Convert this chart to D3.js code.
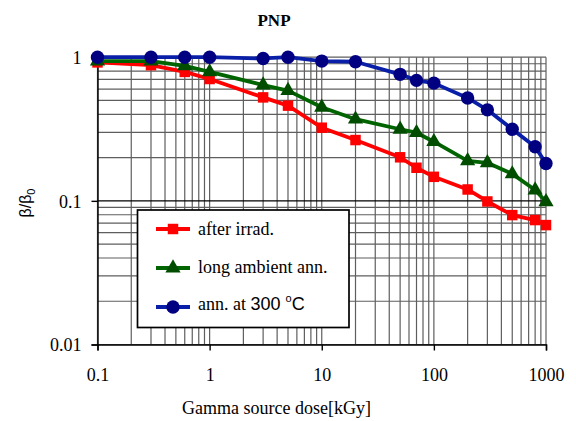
<!DOCTYPE html>
<html>
<head>
<meta charset="utf-8">
<script src="https://cdn.jsdelivr.net/npm/d3@7/dist/d3.min.js"></script>
<style>
  html, body { margin: 0; padding: 0; background: #fff; }
  svg { display: block; }
</style>
</head>
<body>
<svg id="chart" width="576" height="421"></svg>
<script>
// Gamma source dose [kGy]
const doses = [0.1, 0.3, 0.6, 1, 3, 5, 10, 20, 50, 70, 100, 200, 300, 500, 800, 1000];

// Normalised current gain beta/beta0
const afterIrrad   = [0.92, 0.88, 0.79, 0.705, 0.525, 0.46, 0.323, 0.265, 0.201, 0.17, 0.147, 0.12, 0.099, 0.0796, 0.0735, 0.0678];
const longAmbient  = [0.94, 0.94, 0.87, 0.79, 0.64, 0.585, 0.448, 0.37, 0.315, 0.298, 0.258, 0.19, 0.184, 0.154, 0.119, 0.0985];
const ann300       = [1.0, 1.0, 1.0, 1.0, 0.98, 1.0, 0.94, 0.93, 0.76, 0.69, 0.66, 0.52, 0.43, 0.315, 0.238, 0.182];

const xTickValues = [0.1, 1, 10, 100, 1000];
const xTickLabels = ["0.1", "1", "10", "100", "1000"];
const yTickValues = [0.01, 0.1, 1];
const yTickLabels = ["0.01", "0.1", "1"];

const seriesNames = ["after irrad.", "long ambient ann.", "ann. at 300 °C"];

const svg = d3.select("#chart");
const serif = "'Liberation Serif', 'Times New Roman', serif";
const sans = "'Liberation Sans', Arial, sans-serif";

const x = d3.scaleLog().domain([0.1, 1000]).range([97.5, 546]);
const y = d3.scaleLog().domain([0.01, 1]).range([344.5, 57.2]);

// grid: minor + major lines per decade
const grid = svg.append("g");
grid.selectAll("line.vx").data(x.ticks()).join("line")
  .attr("x1", d => x(d)).attr("x2", d => x(d))
  .attr("y1", y(1)).attr("y2", y(0.01))
  .attr("stroke", "#5e5e5e").attr("stroke-width", 1.2);
grid.selectAll("line.hy").data(y.ticks()).join("line")
  .attr("x1", x(0.1)).attr("x2", x(1000))
  .attr("y1", d => y(d)).attr("y2", d => y(d))
  .attr("stroke", d => d === 0.1 ? "#000" : "#5e5e5e")
  .attr("stroke-width", d => d === 0.1 ? 1.4 : 1.2);

// axes
const xAxis = d3.axisBottom(x).tickValues(xTickValues)
  .tickFormat((d, i) => xTickLabels[i]).tickSize(6).tickPadding(18);
const gx = svg.append("g").attr("transform", `translate(0,${y(0.01)})`).call(xAxis);
gx.select(".domain").attr("stroke", "#000").attr("stroke-width", 1.4);
gx.selectAll(".tick line").attr("stroke", "#000").attr("stroke-width", 1.4);
gx.selectAll(".tick text").attr("font-family", serif).attr("font-size", 18).attr("fill", "#000");

const yAxis = d3.axisLeft(y).tickValues(yTickValues)
  .tickFormat((d, i) => yTickLabels[i]).tickSize(6).tickPadding(10);
const gy = svg.append("g").attr("transform", `translate(${x(0.1)},0)`).call(yAxis);
gy.select(".domain").attr("stroke", "#000").attr("stroke-width", 1.4);
gy.selectAll(".tick line").attr("stroke", "#000").attr("stroke-width", 1.4);
gy.selectAll(".tick text").attr("font-family", serif).attr("font-size", 18).attr("fill", "#000")
  .attr("dy", "0.35em");

// series
const series = [
  { name: seriesNames[0], values: afterIrrad,  line: "#ff0000", fill: "#ff0000", shape: "square" },
  { name: seriesNames[1], values: longAmbient, line: "#006400", fill: "#004d00", shape: "triangle" },
  { name: seriesNames[2], values: ann300,      line: "#0a1fa8", fill: "#000080", shape: "circle" }
];

const symbolFor = {
  square:   d3.symbol().type(d3.symbolSquare).size(110),
  triangle: d3.symbol().type(d3.symbolTriangle).size(100),
  circle:   d3.symbol().type(d3.symbolCircle).size(140)
};

const lineGen = d3.line().x(d => x(d[0])).y(d => y(d[1]));

series.forEach(s => {
  const pts = doses.map((d, i) => [d, s.values[i]]);
  const g = svg.append("g");
  g.append("path").datum(pts).attr("d", lineGen)
    .attr("fill", "none").attr("stroke", s.line).attr("stroke-width", 3.8)
    .attr("stroke-linejoin", "round");
  g.selectAll("path.m").data(pts).join("path")
    .attr("class", "m")
    .attr("d", symbolFor[s.shape])
    .attr("transform", d => `translate(${x(d[0])},${y(d[1])})`)
    .attr("fill", s.fill);
});

// legend
const lg = svg.append("g");
lg.append("rect").attr("x", 137.5).attr("y", 210).attr("width", 211.5).attr("height", 117.5)
  .attr("fill", "#fff").attr("stroke", "#000").attr("stroke-width", 1.7);
const rowY = [229, 268, 307];
series.forEach((s, i) => {
  lg.append("line").attr("x1", 156).attr("x2", 190).attr("y1", rowY[i]).attr("y2", rowY[i])
    .attr("stroke", s.line).attr("stroke-width", 3.8);
  lg.append("path").attr("d", symbolFor[s.shape])
    .attr("transform", `translate(173,${rowY[i]})`).attr("fill", s.fill);
});
lg.append("text").attr("x", 198).attr("y", 235).attr("font-family", serif).attr("font-size", 18)
  .text(seriesNames[0]);
lg.append("text").attr("x", 198).attr("y", 273).attr("font-family", serif).attr("font-size", 18)
  .text(seriesNames[1]);
const t3 = lg.append("text").attr("x", 198).attr("y", 310).attr("font-family", serif).attr("font-size", 18);
t3.append("tspan").text("ann. at ");
t3.append("tspan").attr("font-family", sans).attr("font-size", 18).text("300 ");
t3.append("tspan").attr("font-family", sans).attr("font-size", 11).attr("dy", -8).text("o");
t3.append("tspan").attr("font-family", sans).attr("font-size", 18).attr("dy", 8).text("C");

// titles
svg.append("text").attr("x", 274).attr("y", 26).attr("text-anchor", "middle")
  .attr("font-family", serif).attr("font-weight", "bold").attr("font-size", 17).text("PNP");
svg.append("text").attr("x", 276.5).attr("y", 414).attr("text-anchor", "middle")
  .attr("font-family", serif).attr("font-size", 18).text("Gamma source dose[kGy]");
const yt = svg.append("text").attr("transform", "translate(31,203) rotate(-90)")
  .attr("text-anchor", "middle").attr("font-family", sans).attr("font-size", 16);
yt.append("tspan").text("β/β");
yt.append("tspan").attr("font-size", 11).attr("dy", 4).text("0");
</script>
</body>
</html>
